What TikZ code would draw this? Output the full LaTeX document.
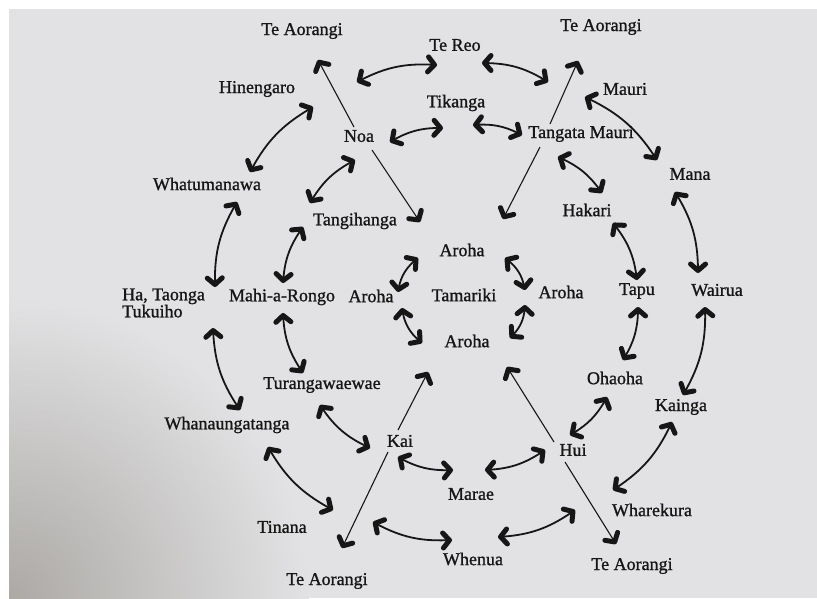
\documentclass[tikz,border=0pt]{standalone}
\usepackage{fontspec}
\setmainfont{Liberation Serif}
\newfontfamily\lblfont{Liberation Serif}[FakeBold=1.1]
\usetikzlibrary{arrows.meta,bending,shadings}
\definecolor{ink}{RGB}{22,22,22}
\definecolor{bgBase}{RGB}{226,226,228}
\definecolor{bgLL}{RGB}{172,169,165}
\tikzset{
  lbl/.style={font=\lblfont\fontsize{18}{17}\selectfont, text=ink, inner sep=1pt},
  barb/.tip={Straight Barb[length=6.5pt,width=15pt,line width=5pt 0,round]},
  dbl/.style={draw=ink, line width=1.8pt, barb-barb, bend left=16},
  dblin/.style={draw=ink, line width=1.8pt, barb-barb, bend left=22},
  one/.style={draw=ink, line width=1.1pt, -barb}
}
\begin{document}
\begin{tikzpicture}[x=1pt,y=-1pt]
\useasboundingbox (0,0) rectangle (817,598);
\fill[white] (0,0) rectangle (817,598);
\fill[bgBase] (9,9) rectangle (817,598);
\begin{scope}
\clip (9,9) rectangle (817,598);
\shade[inner color=bgLL, outer color=bgBase] (9,598) circle (300);
\end{scope}

% labels
\node[lbl] (tal) at (302,31) {Te Aorangi};
\node[lbl] (tar) at (601,27) {Te Aorangi};
\node[lbl] (reo) at (455,45) {Te Reo};
\node[lbl] (hin) at (257,89) {Hinengaro};
\node[lbl] (mau) at (625,89) {Mauri};
\node[lbl] (tik) at (456,103) {Tikanga};
\node[lbl] (noa) at (359,136) {Noa};
\node[lbl] (tm) at (581,134) {Tangata Mauri};
\node[lbl] (man) at (690,174) {Mana};
\node[lbl] (wha) at (207,184) {Whatumanawa};
\node[lbl] (hak) at (587,210) {Hakari};
\node[lbl] (tan) at (355,221) {Tangihanga};
\node[lbl] (art) at (462,250) {Aroha};
\node[lbl,align=left,anchor=west] (ha) at (121,303) {Ha, Taonga\\Tukuiho};
\node[lbl] (mah) at (282,297) {Mahi-a-Rongo};
\node[lbl] (arl) at (371,296) {Aroha};
\node[lbl] (tam) at (464,295) {Tamariki};
\node[lbl] (arr) at (561,292) {Aroha};
\node[lbl] (tap) at (637,291) {Tapu};
\node[lbl] (wai) at (717,290) {Wairua};
\node[lbl] (arb) at (467,341) {Aroha};
\node[lbl] (oha) at (615,378) {Ohaoha};
\node[lbl] (tur) at (322,385) {Turangawaewae};
\node[lbl] (kng) at (681,407) {Kainga};
\node[lbl] (whn) at (227,425) {Whanaungatanga};
\node[lbl] (kai) at (400,441) {Kai};
\node[lbl] (hui) at (573,450) {Hui};
\node[lbl] (mar) at (471,494) {Marae};
\node[lbl] (whk) at (652,510) {Wharekura};
\node[lbl] (tin) at (282,527) {Tinana};
\node[lbl] (whe) at (473,559) {Whenua};
\node[lbl] (tbl) at (327,581) {Te Aorangi};
\node[lbl] (tbr) at (632,566) {Te Aorangi};

% straight arrows (star)
\coordinate (s1) at (318,60);
\coordinate (s2) at (420,222);
\coordinate (s3) at (578,61);
\coordinate (s4) at (503,219);
\coordinate (s5) at (428,372);
\coordinate (s6) at (342,548);
\coordinate (s7) at (507,367);
\coordinate (s8) at (616,544);
\coordinate (n1) at (354,127);
\coordinate (n2) at (372,150);
\coordinate (t1) at (550,124);
\coordinate (t2) at (540,147);
\coordinate (k1) at (398,430);
\coordinate (k2) at (388,452);
\coordinate (h1) at (554,442);
\coordinate (h2) at (565,462);
\draw[one] (n1) -- (s1);
\draw[one] (n2) -- (s2);
\draw[one] (t1) -- (s3);
\draw[one] (t2) -- (s4);
\draw[one] (k1) -- (s5);
\draw[one] (k2) -- (s6);
\draw[one] (h1) -- (s7);
\draw[one] (h2) -- (s8);

% outer ring
\coordinate (a1) at (357,82);  \coordinate (a2) at (437,65);
\coordinate (b1) at (482,63);  \coordinate (b2) at (548,82);
\coordinate (d1) at (585,97);  \coordinate (d2) at (657,160);
\coordinate (l1) at (675,192); \coordinate (l2) at (698,273);
\coordinate (k3) at (705,307); \coordinate (k4) at (683,395);
\coordinate (j1) at (672,422); \coordinate (j2) at (613,490);
\coordinate (i1) at (575,510); \coordinate (i2) at (498,537);
\coordinate (h3) at (452,540); \coordinate (h4) at (373,522);
\coordinate (g1) at (333,510); \coordinate (g2) at (268,447);
\coordinate (f1) at (240,410); \coordinate (f2) at (213,328);
\coordinate (e1) at (215,287); \coordinate (e2) at (237,202);
\coordinate (c1) at (250,172); \coordinate (c2) at (313,107);
\draw[dbl] (a1) to (a2);
\draw[dbl] (b1) to (b2);
\draw[dbl] (d1) to (d2);
\draw[dbl] (l1) to (l2);
\draw[dbl] (k3) to (k4);
\draw[dbl] (j1) to (j2);
\draw[dbl] (i1) to (i2);
\draw[dbl] (h3) to (h4);
\draw[dbl] (g1) to (g2);
\draw[dbl] (f1) to (f2);
\draw[dbl] (e1) to (e2);
\draw[dbl] (c1) to (c2);

% middle ring
\coordinate (m1) at (390,142); \coordinate (m2) at (443,128);
\coordinate (m3) at (473,125); \coordinate (m4) at (522,135);
\coordinate (m5) at (558,157); \coordinate (m6) at (602,193);
\coordinate (m7) at (613,223); \coordinate (m8) at (637,280);
\coordinate (m9) at (638,307); \coordinate (m10) at (623,360);
\coordinate (m11) at (607,397); \coordinate (m12) at (570,435);
\coordinate (m13) at (545,450); \coordinate (m14) at (485,470);
\coordinate (m15) at (453,470); \coordinate (m16) at (398,457);
\coordinate (m17) at (370,448); \coordinate (m18) at (320,405);
\coordinate (m19) at (303,373); \coordinate (m20) at (283,313);
\coordinate (m21) at (283,283); \coordinate (m22) at (303,227);
\coordinate (m23) at (310,203); \coordinate (m24) at (355,160);
\draw[dbl] (m1) to (m2);
\draw[dbl] (m3) to (m4);
\draw[dbl] (m5) to (m6);
\draw[dbl] (m7) to (m8);
\draw[dbl] (m9) to (m10);
\draw[dbl] (m11) to (m12);
\draw[dbl] (m13) to (m14);
\draw[dbl] (m15) to (m16);
\draw[dbl] (m17) to (m18);
\draw[dbl] (m19) to (m20);
\draw[dbl] (m21) to (m22);
\draw[dbl] (m23) to (m24);

% inner ring
\coordinate (q1) at (505,258); \coordinate (q2) at (525,290);
\coordinate (q3) at (525,305); \coordinate (q4) at (510,338);
\coordinate (q5) at (422,343); \coordinate (q6) at (402,308);
\coordinate (q7) at (398,292); \coordinate (q8) at (418,258);
\draw[dblin] (q1) to (q2);
\draw[dblin] (q3) to (q4);
\draw[dblin] (q5) to (q6);
\draw[dblin] (q7) to (q8);
\end{tikzpicture}
\end{document}
